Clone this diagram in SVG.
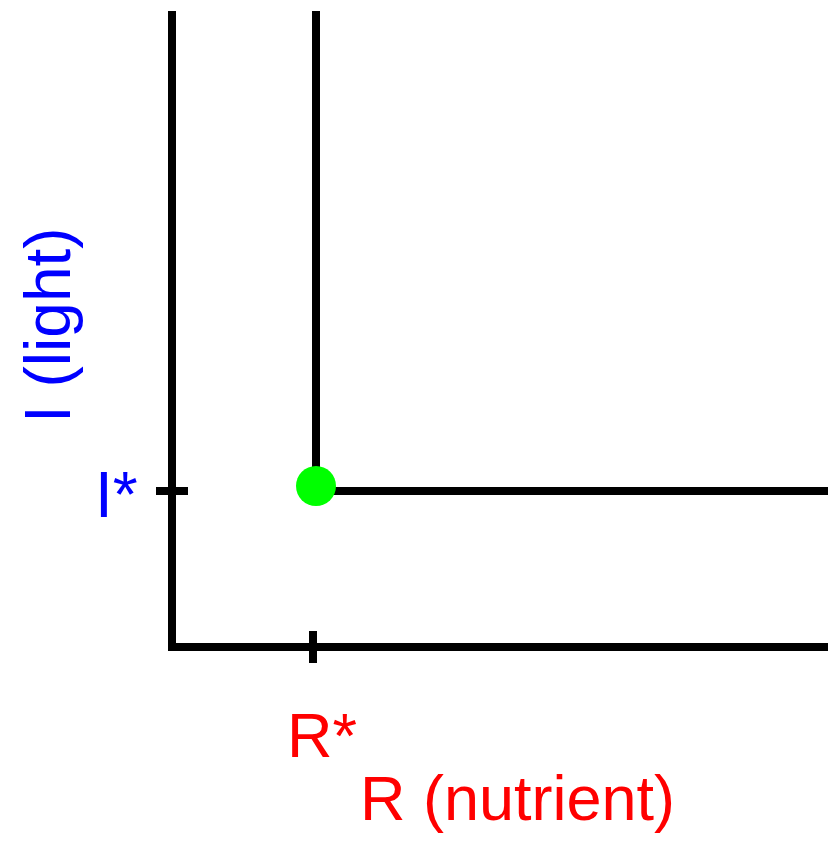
<svg xmlns="http://www.w3.org/2000/svg" width="836" height="841" viewBox="0 0 836 841">
<style>
.ln{fill:none;stroke:#000;stroke-width:8;stroke-linecap:butt;stroke-linejoin:miter}
.t{font-family:"Liberation Sans",Arial,Helvetica,sans-serif;font-size:64px}
.blue{fill:#0000ff}
.red{fill:#ff0000}
</style>
<rect width="836" height="841" fill="#fff"/>
<g id="connectors">
<polyline class="ln" points="172,11 172,647 828,647"/>
<line class="ln" x1="316" y1="11" x2="316" y2="486"/>
<line class="ln" x1="316" y1="491" x2="828" y2="491"/>
<line class="ln" x1="156" y1="491" x2="188" y2="491"/>
<line class="ln" x1="313" y1="631" x2="313" y2="663"/>
</g>
<g id="equilibrium">
<circle cx="316" cy="486" r="20" fill="#00ff00"/>
</g>
<g id="label-I-star"><text class="t blue" x="95" y="517">I*</text></g>
<g id="label-I-axis"><text class="t blue" transform="translate(70,423) rotate(-90)">I (light)</text></g>
<g id="label-R-star"><text class="t red" x="287" y="757" style="font-size:63px">R*</text></g>
<g id="label-R-axis"><text class="t red" x="360" y="820" style="font-size:63px">R (nutrient)</text></g>
</svg>
